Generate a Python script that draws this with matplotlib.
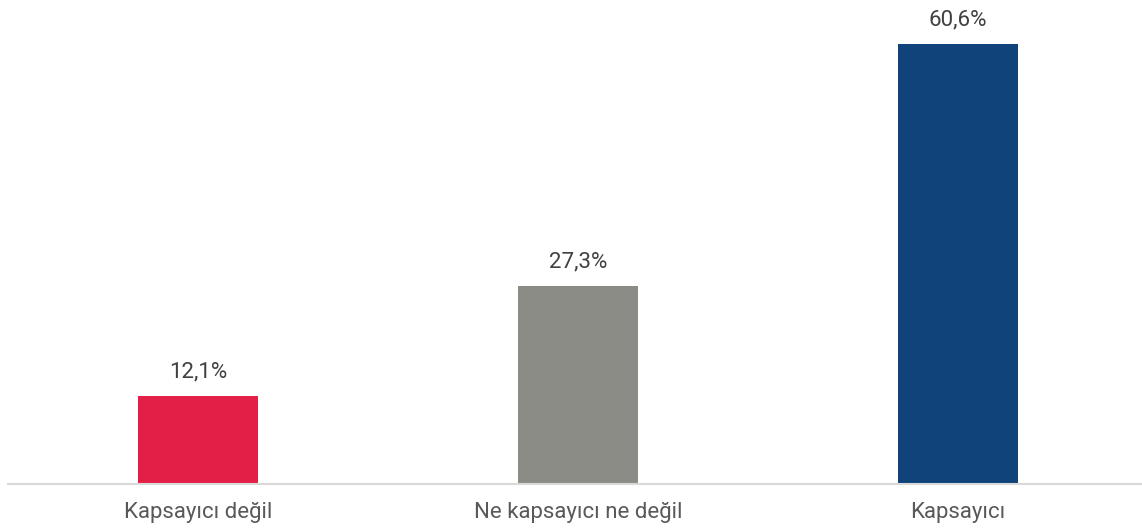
import matplotlib
matplotlib.use("Agg")
import matplotlib.pyplot as plt

# kategoriler ve değerler
kategoriler = ["Kapsayıcı değil", "Ne kapsayıcı ne değil", "Kapsayıcı"]
degerler = [12.1, 27.3, 60.6]
etiketler = ["12,1%", "27,3%", "60,6%"]
renkler = ["#E41F47", "#8C8C87", "#10437A"]

plt.rcParams["font.family"] = ["Roboto", "DejaVu Sans"]

fig = plt.figure(figsize=(11.42, 5.31), dpi=100)
ax = fig.add_axes([8 / 1142, 47 / 531, 1140 / 1142, 484 / 531])

x = range(len(kategoriler))
barlar = ax.bar(x, degerler, width=120 / 380, color=renkler)

for bar, et in zip(barlar, etiketler):
    ax.annotate(et, (bar.get_x() + bar.get_width() / 2, bar.get_height()),
                xytext=(0, 10), textcoords="offset points",
                ha="center", va="bottom", fontsize=16, color="#404040")

ax.set_xlim(-0.5, 2.5)
ax.set_ylim(0, 66.7)
ax.set_xticks(list(x))
ax.set_xticklabels(kategoriler, fontsize=16, color="#595959")
ax.tick_params(axis="x", length=0, pad=13)
ax.set_yticks([])
for s in ["top", "right", "left"]:
    ax.spines[s].set_visible(False)
ax.spines["bottom"].set_color("#D9D9D9")
ax.spines["bottom"].set_linewidth(1.5)

fig.savefig("out.png", dpi=100)
